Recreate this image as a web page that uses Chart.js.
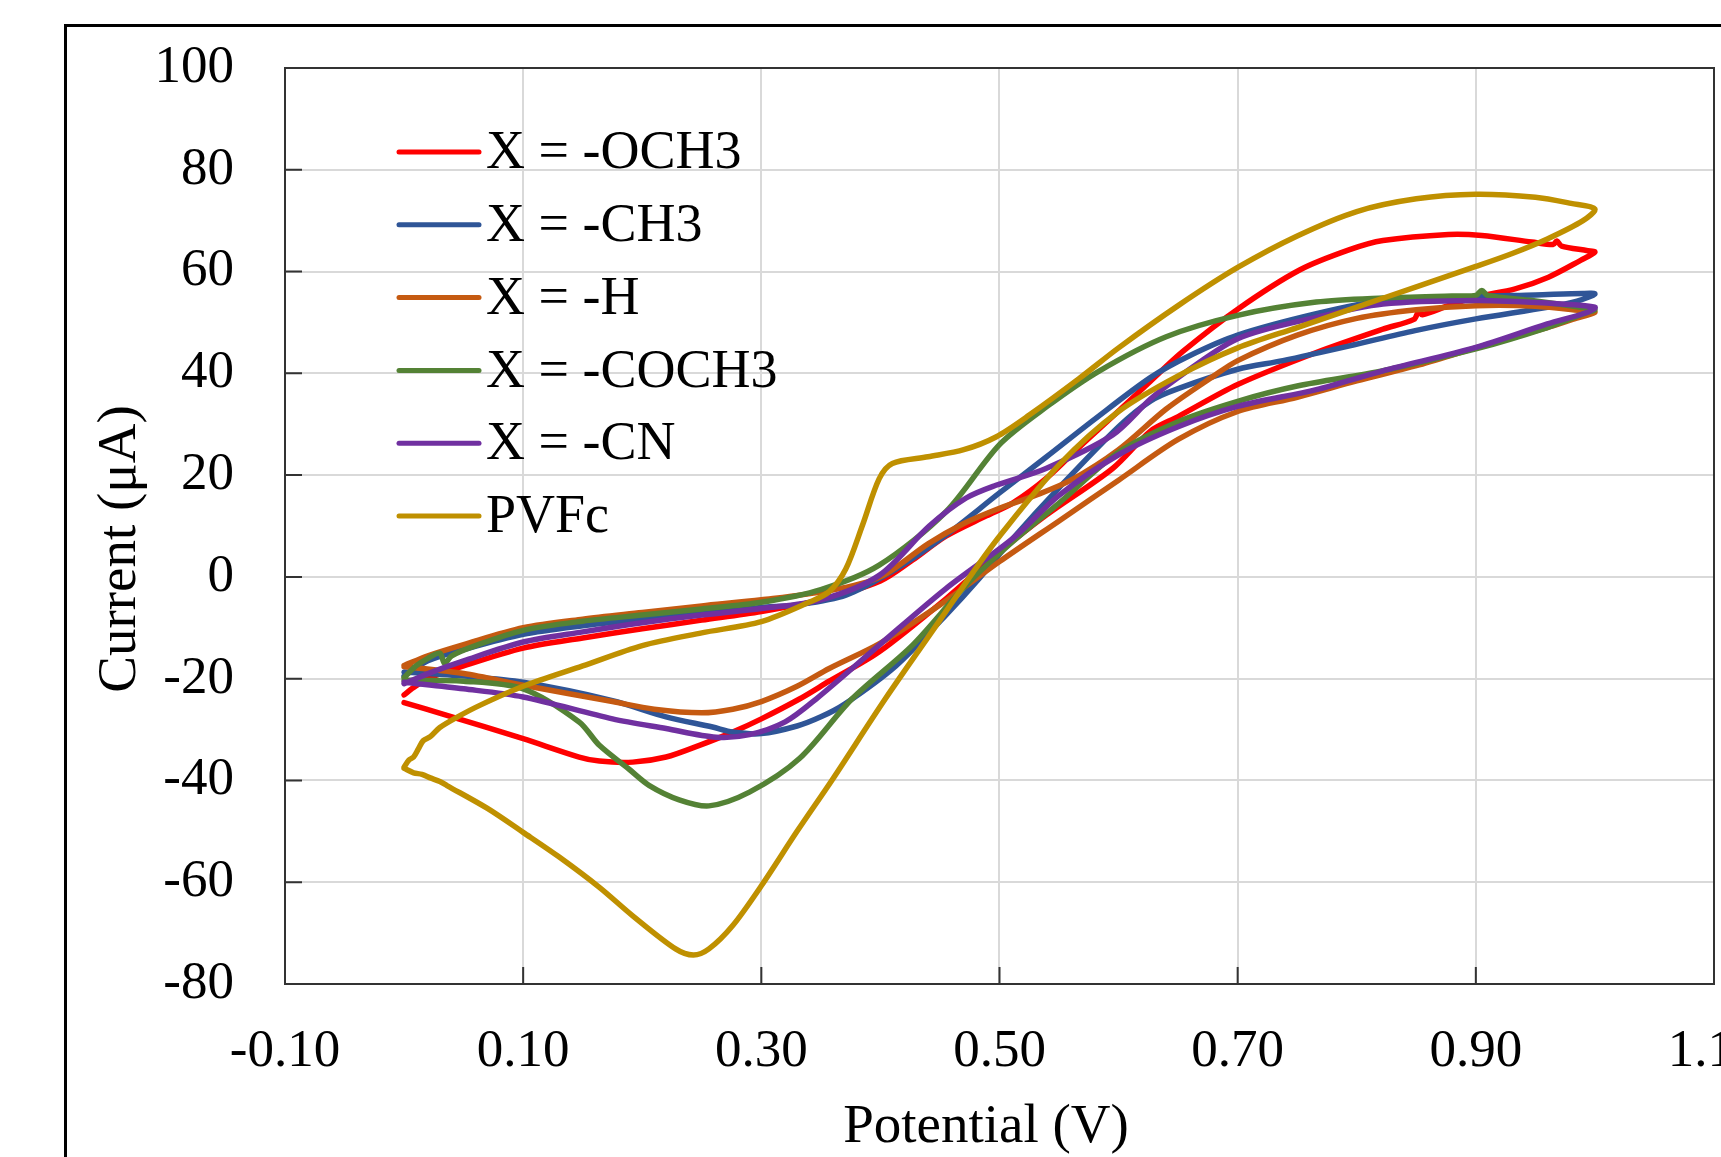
<!DOCTYPE html>
<html><head><meta charset="utf-8">
<script src="https://cdn.jsdelivr.net/npm/chart.js@4.4.1/dist/chart.umd.min.js"></script>
<style>html,body{margin:0;padding:0;background:#fff}canvas{display:block}</style>
</head><body>
<canvas id="c" width="1721" height="1157"></canvas>
<script>
// ---------- data (Potential V, Current µA) ----------
const seriesLabels = ['X = -OCH3', 'X = -CH3', 'X = -H', 'X = -COCH3', 'X = -CN', 'PVFc'];
const seriesColors = ['#FF0000', '#2F5597', '#C55A11', '#548235', '#7030A0', '#BF9000'];
const xTickValues = [-0.1, 0.1, 0.3, 0.5, 0.7, 0.9, 1.1];
const yTickValues = [-80, -60, -40, -20, 0, 20, 40, 60, 80, 100];
const xTitle = 'Potential (V)';
const yTitle = 'Current (\u03BCA)';

const ochV = [0,0.007,0.02,0.05,0.1,0.15,0.2,0.25,0.3,0.35,0.4,0.427,0.455,0.489,0.511,0.54,0.567,0.595,0.627,0.654,0.7,0.752,0.794,0.822,0.877,0.905,0.947,0.965,0.968,0.972,0.994,1.0,
  0.988,0.961,0.933,0.9,0.877,0.855,0.852,0.848,0.822,0.766,0.7,0.65,0.627,0.595,0.539,0.5,0.455,0.399,0.357,0.332,0.3,0.276,0.248,0.22,0.192,0.164,0.147,0.1,0.036,0];
const ochI = [-23.2,-21.9,-20,-17.5,-14,-12,-10.2,-8.5,-6.8,-4.5,-0.8,3.3,8,12,14.5,19.5,25.5,31.5,38.5,44.3,52.6,60.3,64.3,66.1,67.3,67.1,65.8,65.3,66,65,64.1,63.8,
  62.2,58.9,56.6,55,53.3,51.5,52.2,50.6,48.7,44.1,37.8,31.5,28.7,21.3,12.1,4.9,-4.3,-14.7,-20.5,-24,-27.9,-30.5,-33.1,-35.4,-36.4,-36.2,-35.4,-31.8,-27.2,-24.7];

const ch3V = [0,0.02,0.05,0.1,0.15,0.2,0.25,0.3,0.33,0.371,0.413,0.455,0.5,0.539,0.58,0.627,0.66,0.7,0.766,0.822,0.9,0.95,0.99,1.0,
  0.985,0.96,0.9,0.849,0.794,0.738,0.7,0.65,0.627,0.6,0.55,0.511,0.483,0.455,0.413,0.37,0.35,0.33,0.3,0.276,0.259,0.22,0.175,0.1,0.05,0];
const ch3I = [-19.5,-16.5,-14.3,-11.3,-9.6,-8.3,-7.1,-6,-5.5,-3.6,1.5,8.2,16.5,23.5,31,39.2,43.5,47.5,51.7,54.3,55.1,55.4,55.7,55.6,
  54.2,53,50.7,48.4,45.4,42.5,40.8,37,34.6,29.5,17.5,7.5,-0.3,-7.5,-17.5,-25,-27.5,-29.3,-30.8,-30.5,-29.5,-27.5,-24.3,-20.7,-19.5,-18.7];

const hV = [0,0.02,0.05,0.1,0.15,0.2,0.25,0.3,0.357,0.4,0.44,0.47,0.5,0.53,0.56,0.6,0.64,0.68,0.7,0.75,0.8,0.85,0.9,0.95,0.99,1.0,
  0.98,0.96,0.9,0.85,0.8,0.75,0.7,0.65,0.6,0.55,0.5,0.45,0.4,0.357,0.33,0.3,0.276,0.25,0.21,0.175,0.1,0.05,0];
const hI = [-17.4,-15.5,-13.3,-10,-8.3,-7,-5.7,-4.5,-2.7,0,6.5,10.5,13.5,16,19,25,33,39.5,42.5,47.5,50.8,52.5,53.3,53.2,52.3,52,
  50.5,49,45,41.5,38.5,35.3,32.5,27,19,11,3,-5.5,-13,-18,-21.5,-24.5,-26,-26.7,-26,-24.5,-21.3,-19,-17.6];

const coch3V = [0,0.01,0.02,0.03,0.034,0.04,0.06,0.1,0.15,0.2,0.25,0.3,0.35,0.399,0.455,0.5,0.54,0.584,0.64,0.7,0.766,0.822,0.88,0.9,0.905,0.91,0.947,0.988,1.0,
  0.994,0.96,0.9,0.822,0.75,0.7,0.65,0.6,0.55,0.511,0.472,0.427,0.376,0.332,0.29,0.256,0.231,0.206,0.189,0.164,0.147,0.1,0.05,0];
const coch3I = [-19.8,-17.5,-16,-15,-17,-15.5,-13.5,-10.5,-8.7,-7.5,-6.3,-5,-2.5,2.3,12.8,26,33.5,40.5,47.2,51.4,54,54.8,55.2,55.3,56.3,55.3,54.3,53,52.5,
  52,49,44.8,40.5,37.5,34.5,30.5,24.5,14.5,6.9,-1.6,-13.4,-24,-35.7,-42.3,-45,-43.8,-41,-37.8,-33.1,-28.5,-22,-20.5,-20.3];

const cnV = [0,0.02,0.05,0.1,0.15,0.2,0.25,0.3,0.35,0.399,0.441,0.472,0.497,0.539,0.595,0.627,0.646,0.7,0.766,0.822,0.9,0.96,1.0,
  0.994,0.96,0.9,0.822,0.766,0.7,0.65,0.6,0.55,0.511,0.455,0.399,0.346,0.32,0.29,0.262,0.22,0.175,0.1,0.05,0];
const cnI = [-21,-19,-16.5,-12.8,-10.8,-9,-7.5,-6.2,-4.5,0.3,10,15.5,18,21.3,27.9,35,38.5,46.8,51,53.6,54.3,53.8,53,
  52,49.7,45.1,40.5,36.8,33.5,29.5,24,16,7.5,-2.3,-13.4,-24,-28.5,-31,-31.5,-29.8,-27.9,-23.6,-22,-20.7];

const pvfcV = [0,0.004,0.008,0.012,0.016,0.022,0.03,0.045,0.064,0.1,0.15,0.2,0.25,0.3,0.34,0.357,0.371,0.385,0.399,0.41,0.44,0.47,0.497,0.525,0.567,0.6,0.65,0.7,0.75,0.8,0.85,0.9,0.95,0.98,1.0,
  0.99,0.96,0.93,0.9,0.85,0.8,0.75,0.7,0.65,0.6,0.55,0.5,0.478,0.45,0.404,0.36,0.33,0.3,0.276,0.256,0.243,0.228,0.192,0.164,0.13,0.1,0.07,0.036,0.03,0.022,0.015,0.008,0];
const pvfcI = [-37.4,-36,-35.4,-33.8,-32.2,-31.4,-29.6,-27.5,-25.2,-21.5,-17.5,-13.5,-11,-8.8,-5,-2.9,1.6,10.2,19.3,22.3,23.6,25,27.5,31.8,39,45,53.3,60.8,67,71.8,74.3,75.2,74.6,73.4,72.3,
  70,66.4,63.5,61,57,53,49,45,39.5,32.5,22,8,1,-8.5,-24,-39.7,-50,-60.7,-68.5,-73.1,-74.3,-73.1,-66.6,-61,-55,-50.2,-45.5,-41,-40.2,-39.5,-38.8,-38.5,-37.6];

const seriesV = [ochV, ch3V, hV, coch3V, cnV, pvfcV];
const seriesI = [ochI, ch3I, hI, coch3I, cnI, pvfcI];

// ---------- chart ----------
const FONT = '"Liberation Serif", "Times New Roman", serif';
const PLOT = {left: 285, top: 68, right: 1714, bottom: 984};

const datasets = seriesLabels.map((label, k) => ({
  label,
  data: seriesV[k].map((v, i) => ({x: v, y: seriesI[k][i]})),
  borderColor: seriesColors[k],
  backgroundColor: seriesColors[k],
  borderWidth: 5.5,
  pointRadius: 0,
  showLine: true,
  fill: false,
  tension: 0.3,
  borderCapStyle: 'round',
  borderJoinStyle: 'round',
  order: seriesLabels.length - 1 - k
}));

const framePlugin = {
  id: 'frame',
  beforeDraw(chart) {
    const ctx = chart.ctx;
    ctx.save();
    ctx.fillStyle = '#fff';
    ctx.fillRect(0, 0, chart.width, chart.height);
    ctx.strokeStyle = '#000';
    ctx.lineWidth = 3;
    ctx.strokeRect(65.5, 25.5, 1700, 1200);
    ctx.restore();
  },
  beforeDatasetsDraw(chart) {
    const ctx = chart.ctx, a = chart.chartArea;
    const xs = chart.scales.x, ys = chart.scales.y;
    ctx.save();
    ctx.strokeStyle = '#333';
    ctx.lineWidth = 2;
    ctx.strokeRect(a.left, a.top, a.right - a.left, a.bottom - a.top);
    ctx.beginPath();
    xTickValues.forEach(v => { const p = xs.getPixelForValue(v); ctx.moveTo(p, a.bottom); ctx.lineTo(p, a.bottom - 17); });
    yTickValues.forEach(v => { const p = ys.getPixelForValue(v); ctx.moveTo(a.left, p); ctx.lineTo(a.left + 17, p); });
    ctx.stroke();
    ctx.restore();
  },
  afterDraw(chart) {
    const ctx = chart.ctx;
    ctx.save();
    ctx.fillStyle = '#000';
    ctx.font = '55px ' + FONT;
    ctx.textAlign = 'center';
    ctx.textBaseline = 'middle';
    ctx.fillText(xTitle, 986, 1128);
    ctx.translate(121, 549);
    ctx.rotate(-Math.PI / 2);
    ctx.fillText(yTitle, 0, 0);
    ctx.restore();
    ctx.save();
    ctx.font = '54px ' + FONT;
    ctx.textAlign = 'left';
    ctx.textBaseline = 'middle';
    chart.data.datasets.forEach((ds, k) => {
      const y = 152 + k * 72.8;
      ctx.strokeStyle = ds.borderColor;
      ctx.lineWidth = 5;
      ctx.lineCap = 'round';
      ctx.beginPath();
      ctx.moveTo(399, y);
      ctx.lineTo(479, y);
      ctx.stroke();
      ctx.fillStyle = '#000';
      ctx.fillText(ds.label, 486, y + 2);
    });
    ctx.restore();
  }
};

new Chart(document.getElementById('c'), {
  type: 'scatter',
  data: {datasets},
  options: {
    responsive: false,
    animation: false,
    devicePixelRatio: 1,
    layout: {padding: {left: 0, top: PLOT.top, right: 1721 - PLOT.right, bottom: 0}},
    plugins: {legend: {display: false}, tooltip: {enabled: false}, title: {display: false}},
    scales: {
      x: {
        type: 'linear', min: -0.1, max: 1.1,
        afterBuildTicks: s => { s.ticks = xTickValues.map(v => ({value: v})); },
        afterFit: s => { s.height = 1157 - PLOT.bottom; s.paddingLeft = 0; s.paddingRight = 0; },
        grid: {color: '#D9D9D9', lineWidth: 2, drawTicks: false},
        border: {display: false},
        ticks: {
          padding: 36, color: '#000', font: {family: FONT, size: 53}, maxRotation: 0, autoSkip: false,
          callback: v => v.toFixed(2)
        }
      },
      y: {
        type: 'linear', min: -80, max: 100,
        afterBuildTicks: s => { s.ticks = yTickValues.map(v => ({value: v})); },
        afterFit: s => { s.width = PLOT.left; s.paddingTop = 0; s.paddingBottom = 0; },
        grid: {color: '#D9D9D9', lineWidth: 2, drawTicks: false},
        border: {display: false},
        ticks: {
          padding: 51, color: '#000', font: {family: FONT, size: 53}, autoSkip: false,
          callback: v => String(v)
        }
      }
    }
  },
  plugins: [framePlugin]
});
</script>
</body></html>
